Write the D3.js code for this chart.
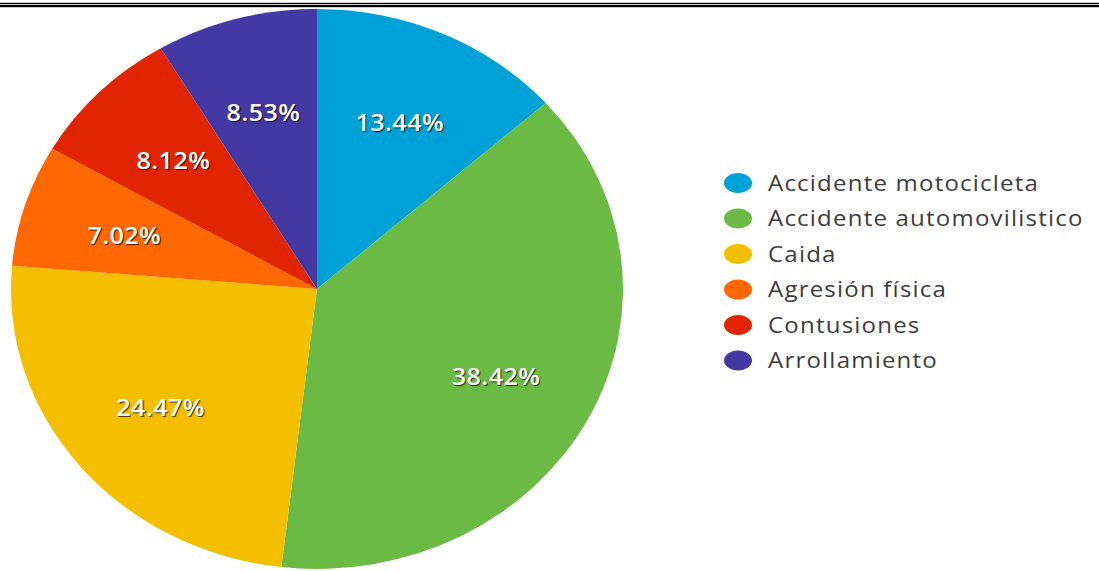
<!DOCTYPE html>
<html>
<head>
<meta charset="utf-8">
<script src="https://cdn.jsdelivr.net/npm/d3@7"></script>
<style>
  html, body { margin: 0; padding: 0; background: #fff; }
  svg { display: block; }
  .slice-label {
    fill: #fff;
    font-family: "Open Sans", sans-serif;
    font-weight: 600;
    letter-spacing: 0.4px;
    text-shadow: 1px 1px 1px rgba(0,0,0,0.75);
  }
  .legend text {
    font-family: "Open Sans", sans-serif;
    fill: #3c3c3c;
    letter-spacing: 1.1px;
  }
</style>
</head>
<body>
<div id="chart"></div>
<script>
// Pie chart: causas de lesión (porcentajes)
const categories = [
  "Accidente motocicleta",
  "Accidente automovilistico",
  "Caida",
  "Agresión física",
  "Contusiones",
  "Arrollamiento"
];
const values = [13.44, 38.42, 24.47, 7.02, 8.12, 8.53];
const colors = ["#00a1d7", "#6aba44", "#f4bf00", "#ff6800", "#e02500", "#4439a3"];

const W = 1099, H = 571;
const cx = 317, cy = 289;
const R = 280;              // vertical radius
const sx = 306 / R;         // the original is stretched horizontally

const svg = d3.select("#chart").append("svg")
  .attr("width", W)
  .attr("height", H);

// double rule at the top
svg.append("rect").attr("x", 0).attr("y", 2.8).attr("width", W).attr("height", 1.2).attr("fill", "#000");
svg.append("rect").attr("x", 0).attr("y", 4.8).attr("width", W).attr("height", 2.4).attr("fill", "#000");

const data = categories.map((c, i) => ({ name: c, value: values[i] }));

const pie = d3.pie().sort(null).value(d => d.value);
const arc = d3.arc().innerRadius(0).outerRadius(R);
const labelArc = d3.arc().innerRadius(R * 0.66).outerRadius(R * 0.66);

const color = d3.scaleOrdinal().domain(categories).range(colors);

const g = svg.append("g")
  .attr("transform", `translate(${cx},${cy}) scale(${sx},1)`);

const arcs = pie(data);

g.selectAll("path")
  .data(arcs)
  .enter().append("path")
  .attr("d", arc)
  .attr("fill", d => color(d.data.name));

g.selectAll("text")
  .data(arcs)
  .enter().append("text")
  .attr("class", "slice-label")
  .attr("transform", d => `translate(${labelArc.centroid(d)})`)
  .attr("text-anchor", "middle")
  .attr("dy", "0.45em")
  .style("font-size", "23px")
  .text(d => d.data.value.toFixed(2) + "%");

// Legend
const legend = svg.append("g").attr("class", "legend");
const rowH = 35.5;
const items = legend.selectAll("g")
  .data(categories)
  .enter().append("g")
  .attr("transform", (d, i) => `translate(738,${183 + i * rowH})`);

items.append("ellipse")
  .attr("rx", 14)
  .attr("ry", 10)
  .attr("fill", d => color(d));

items.append("text")
  .attr("transform", `translate(30,0) scale(${sx},1)`)
  .attr("dy", "0.36em")
  .style("font-size", "22px")
  .text(d => d);
</script>
</body>
</html>
